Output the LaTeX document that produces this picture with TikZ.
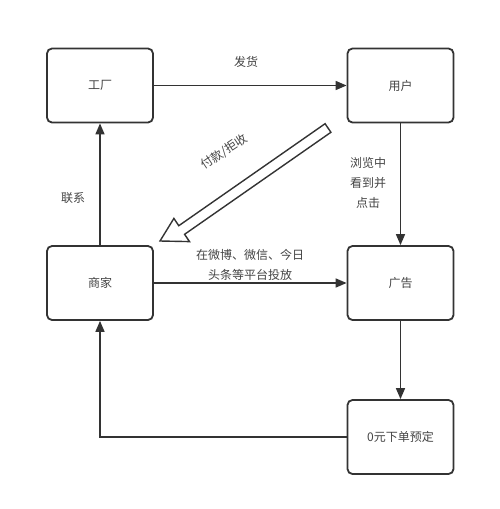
\documentclass[tikz,border=0pt]{standalone}
\usepackage{fontspec}
\setmainfont{Noto Sans CJK SC}
\usetikzlibrary{arrows.meta,calc}
\definecolor{ln}{HTML}{333333}
\definecolor{tx}{HTML}{444444}
\tikzset{
  box/.style={draw=ln, line width=1.8pt, rounded corners=5pt, minimum width=106pt, minimum height=74pt, inner sep=0pt, font=\fontsize{12}{14}\selectfont, text=tx},
  conn/.style={draw=ln, line width=1.6pt, -{Triangle[length=11pt,width=9pt]}},
  lbl/.style={font=\fontsize{12}{20}\selectfont, text=tx, align=center, inner sep=0pt}
}
\begin{document}
\begin{tikzpicture}[x=1pt,y=-1pt]
\useasboundingbox[fill=white] (0,0) rectangle (500,509);
\node[box] (factory) at (100,85.5) {工厂};
\node[box] (user) at (400.5,85.5) {用户};
\node[box] (shop) at (100,283) {商家};
\node[box] (ad) at (400.5,283) {广告};
\node[box] (order) at (400.5,437) {0元下单预定};
\draw[conn] (factory) -- (user);
\draw[conn] (user) -- (ad);
\draw[conn] (shop) -- (factory);
\draw[conn] (shop) -- (ad);
\draw[conn] (ad) -- (order);
\draw[conn] (order.west) -| (shop.south);
\node[lbl] (l1) at (246,62) {发货};
\node[lbl] (l2) at (368,183) {浏览中\\看到并\\点击};
\node[lbl] (l3) at (73,198) {联系};
\node[lbl] (l4) at (250,265) {在微博、微信、今日\\头条等平台投放};
\node[lbl, rotate=33.8] (l5) at (224,152) {付款/拒收};
% hollow big arrow
\coordinate (tail) at (328,128);
\coordinate (tip) at (160,241);
\path let \p1=($(tip)-(tail)$), \n1={veclen(\x1,\y1)} in
  coordinate (u) at ($(0,0)!1!(\x1/\n1*1pt,\y1/\n1*1pt)$);
\draw[draw=ln, line width=1.4pt, fill=white, line join=miter]
  ($(tail)+(2.9,4.3)$) -- ($(tip)+(21.7,-11.0)+(2.9,4.3)$) --
  ($(tip)+(21.7,-11.0)+(7.8,11.6)$) -- (tip) --
  ($(tip)+(21.7,-11.0)+(-7.8,-11.6)$) -- ($(tip)+(21.7,-11.0)+(-2.9,-4.3)$) --
  ($(tail)+(-2.9,-4.3)$) -- cycle;
\end{tikzpicture}
\end{document}
